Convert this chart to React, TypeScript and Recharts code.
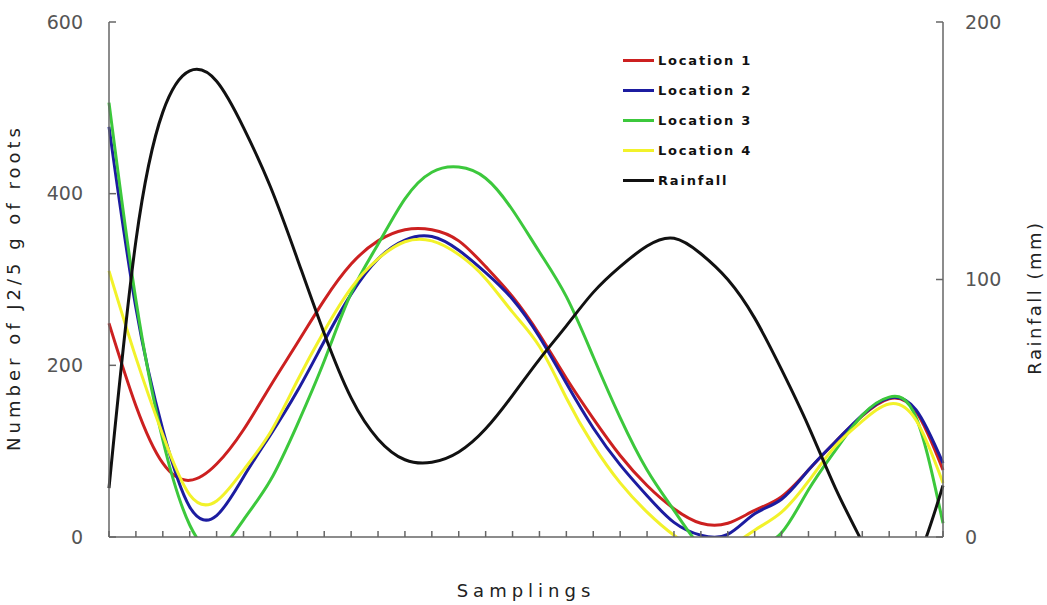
import React from "react";
import {
  LineChart,
  Line,
  XAxis,
  YAxis,
  Legend,
  Label,
} from "recharts";

// 32 samplings at each x tick
const samplings = Array.from({ length: 32 }, (_, i) => `S${i + 1}`);

const location1 = [
  249, 153, 86, 66, 85, 125, 176, 226, 276, 318, 345, 358, 358, 345, 315, 280,
  236, 185, 138, 95, 60, 33, 16, 16, 31, 47, 78, 111, 141, 161, 146, 78,
];
const location2 = [
  478, 267, 125, 35, 25, 70, 119, 170, 228, 283, 324, 346, 350, 334, 308, 277,
  233, 179, 127, 84, 48, 17, 2, 3, 27, 44, 78, 111, 142, 162, 148, 86,
];
const location3 = [
  506, 276, 113, 14, -15, 20, 66, 131, 205, 284, 341, 394, 425, 431, 418, 381,
  332, 280, 210, 139, 78, 31, -12, -30, -15, 5, 55, 101, 142, 163, 139, 16,
];
const location4 = [
  310, 209, 119, 49, 42, 78, 122, 182, 240, 290, 324, 344, 345, 329, 301, 262,
  222, 162, 107, 63, 29, 2, -15, -12, 8, 29, 65, 106, 135, 155, 136, 63,
];
const rainfall = [
  19, 115, 165, 181, 177, 159, 136, 108, 79, 54, 38, 30, 29, 33, 42, 55, 69,
  82, 95, 105, 113, 116, 110, 100, 85, 65, 43, 19, -2, -18, -10, 20,
];

const leftTicks = [0, 200, 400, 600];
const rightTicks = [0, 100, 200];

const series = [
  { key: "loc1", name: "Location 1", color: "#cc2020" },
  { key: "loc2", name: "Location 2", color: "#1c1ca0" },
  { key: "loc3", name: "Location 3", color: "#3cc83c" },
  { key: "loc4", name: "Location 4", color: "#f2f22a" },
  { key: "rain", name: "Rainfall", color: "#111111" },
];

const data = samplings.map((s, i) => ({
  s,
  loc1: location1[i],
  loc2: location2[i],
  loc3: location3[i],
  loc4: location4[i],
  rain: rainfall[i],
}));

const font = "'DejaVu Sans', Verdana, sans-serif";
const axisColor = "#666";

function LegendBox() {
  return (
    <div style={{ fontFamily: font }}>
      {series.map((s) => (
        <div
          key={s.key}
          style={{ display: "flex", alignItems: "center", height: 30 }}
        >
          <span
            style={{
              display: "inline-block",
              width: 31,
              height: 3,
              background: s.color,
              marginRight: 4,
            }}
          />
          <span
            style={{
              fontSize: 13,
              fontWeight: "bold",
              letterSpacing: 1.8,
              color: "#111",
            }}
          >
            {s.name}
          </span>
        </div>
      ))}
    </div>
  );
}

export default function App() {
  return (
    <div style={{ position: "absolute", left: 0, top: 0, background: "#fff" }}>
      <LineChart
        width={1047}
        height={605}
        data={data}
        margin={{ top: 22, right: 0, bottom: 0, left: 0 }}
      >
        <XAxis
          dataKey="s"
          interval={0}
          height={68}
          tickSize={-6}
          tickFormatter={() => ""}
          stroke={axisColor}
          strokeWidth={1.5}
        >
          <Label
            value="Samplings"
            position="insideBottom"
            offset={8}
            style={{
              fontFamily: font,
              fontSize: 18,
              letterSpacing: 5,
              fill: "#222",
            }}
          />
        </XAxis>
        <YAxis
          yAxisId="left"
          width={109}
          domain={[0, 600]}
          ticks={leftTicks}
          allowDataOverflow
          tickSize={-7}
          tickMargin={33}
          stroke={axisColor}
          strokeWidth={1.5}
          tick={{ fontFamily: font, fontSize: 19, fill: "#555" }}
        >
          <Label
            value="Number of J2/5 g of roots"
            angle={-90}
            position="insideLeft"
            offset={14}
            dy={8}
            style={{
              fontFamily: font,
              fontSize: 18,
              letterSpacing: 4,
              fill: "#222",
              textAnchor: "middle",
            }}
          />
        </YAxis>
        <YAxis
          yAxisId="right"
          orientation="right"
          width={104}
          domain={[0, 200]}
          ticks={rightTicks}
          allowDataOverflow
          tickSize={-7}
          tickMargin={29}
          stroke={axisColor}
          strokeWidth={1.5}
          tick={{ fontFamily: font, fontSize: 19, fill: "#555" }}
        >
          <Label
            value="Rainfall (mm)"
            angle={-90}
            position="insideRight"
            offset={12}
            dy={18}
            style={{
              fontFamily: font,
              fontSize: 18,
              letterSpacing: 2.5,
              fill: "#222",
              textAnchor: "middle",
            }}
          />
        </YAxis>
        <Legend
          layout="vertical"
          align="center"
          verticalAlign="middle"
          content={<LegendBox />}
          wrapperStyle={{ position: "absolute", left: 623, top: 45, width: 160 }}
        />
        {series.map((s) => (
          <Line
            key={s.key}
            yAxisId={s.key === "rain" ? "right" : "left"}
            type="natural"
            dataKey={s.key}
            name={s.name}
            stroke={s.color}
            strokeWidth={3}
            dot={false}
            activeDot={false}
            isAnimationActive={false}
          />
        ))}
      </LineChart>
    </div>
  );
}
